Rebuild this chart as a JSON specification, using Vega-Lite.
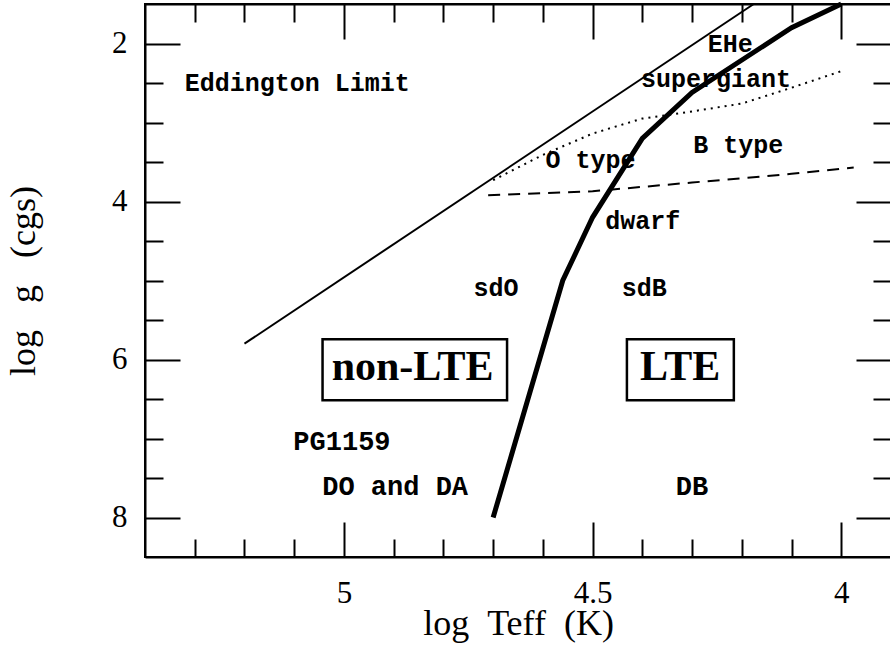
{
  "$schema": "https://vega.github.io/schema/vega-lite/v6.json",
  "width": 746,
  "height": 553,
  "autosize": {"type": "none"},
  "padding": {"left": 145, "top": 4, "right": 0, "bottom": 88},
  "background": "white",
  "config": {
    "view": {"stroke": "black", "strokeWidth": 2},
    "axis": {
      "grid": false,
      "domainColor": "black",
      "domainWidth": 2,
      "tickColor": "black",
      "tickWidth": 2,
      "labelColor": "black",
      "titleColor": "black",
      "labelFont": "Liberation Serif",
      "titleFont": "Liberation Serif",
      "labelFontSize": 31,
      "titleFontSize": 36,
      "titleFontWeight": "normal",
      "labelOverlap": false,
      "labelFlush": false
    }
  },
  "datasets": {
    "eddington": [
      {"logT": 5.2, "logg": 5.8},
      {"logT": 4.176, "logg": 1.5}
    ],
    "boundary": [
      {"logT": 4.7, "logg": 8.0},
      {"logT": 4.56, "logg": 5.0},
      {"logT": 4.5, "logg": 4.2},
      {"logT": 4.4, "logg": 3.2},
      {"logT": 4.3, "logg": 2.62},
      {"logT": 4.1, "logg": 1.8},
      {"logT": 4.0, "logg": 1.5}
    ],
    "dotted": [
      {"logT": 4.7, "logg": 3.73},
      {"logT": 4.6, "logg": 3.41},
      {"logT": 4.5, "logg": 3.14},
      {"logT": 4.4, "logg": 2.95},
      {"logT": 4.3, "logg": 2.86},
      {"logT": 4.2, "logg": 2.76},
      {"logT": 4.1, "logg": 2.56},
      {"logT": 4.0, "logg": 2.35}
    ],
    "dashed": [
      {"logT": 4.71, "logg": 3.92},
      {"logT": 4.5, "logg": 3.87},
      {"logT": 4.3, "logg": 3.76},
      {"logT": 4.1, "logg": 3.65},
      {"logT": 3.975, "logg": 3.57}
    ],
    "labels": [
      {"text": "Eddington Limit", "logT": 5.094, "logg": 2.5},
      {"text": "EHe", "logT": 4.223, "logg": 2.0},
      {"text": "supergiant", "logT": 4.252, "logg": 2.45},
      {"text": "O type", "logT": 4.504, "logg": 3.47},
      {"text": "B type", "logT": 4.207, "logg": 3.28},
      {"text": "dwarf", "logT": 4.399, "logg": 4.25},
      {"text": "sdO", "logT": 4.694, "logg": 5.1},
      {"text": "sdB", "logT": 4.396, "logg": 5.1}
    ],
    "wdlabels": [
      {"text": "PG1159", "logT": 5.004, "logg": 7.04},
      {"text": "DO and DA", "logT": 4.897, "logg": 7.62},
      {"text": "DB", "logT": 4.3, "logg": 7.62}
    ],
    "ltelabels": [
      {"text": "non-LTE", "logT": 4.862, "logg": 6.1},
      {"text": "LTE", "logT": 4.324, "logg": 6.1}
    ],
    "boxes": [
      {"logT": 5.043, "logT2": 4.672, "logg": 5.743, "logg2": 6.515},
      {"logT": 4.431, "logT2": 4.216, "logg": 5.743, "logg2": 6.515}
    ]
  },
  "layer": [
    {
      "encoding": {
        "x": {
          "field": "logT",
          "type": "quantitative",
          "scale": {"domain": [5.4, 3.9], "nice": false, "zero": false},
          "axis": {
            "orient": "bottom",
            "title": "log\u00a0\u00a0Teff\u00a0\u00a0(K)",
            "values": [5.3, 5.2, 5.1, 5.0, 4.9, 4.8, 4.7, 4.6, 4.5, 4.4, 4.3, 4.2, 4.1, 4.0],
            "format": "~g",
            "labelExpr": "abs(datum.value*2 - round(datum.value*2)) < 0.001 ? datum.label : ''",
            "tickSize": {"condition": {"test": "abs(datum.value*2 - round(datum.value*2)) < 0.001", "value": -35}, "value": -18},
            "labelPadding": 56,
            "titlePadding": -19
          }
        },
        "y": {
          "field": "logg",
          "type": "quantitative",
          "scale": {"domain": [8.5, 1.5], "nice": false, "zero": false},
          "axis": {
            "orient": "left",
            "title": "log\u00a0\u00a0\u00a0g\u00a0\u00a0\u00a0(cgs)",
            "values": [2, 2.5, 3, 3.5, 4, 4.5, 5, 5.5, 6, 6.5, 7, 7.5, 8],
            "format": "~g",
            "labelExpr": "datum.value % 2 == 0 ? datum.label : ''",
            "tickSize": {"condition": {"test": "datum.value % 2 == 0", "value": -35}, "value": -18},
            "labelPadding": 53,
            "titlePadding": 68
          }
        }
      },
      "layer": [
        {
          "data": {"name": "eddington"},
          "mark": {"type": "line", "color": "black", "strokeWidth": 2}
        },
        {
          "data": {"name": "dotted"},
          "mark": {"type": "line", "color": "black", "strokeWidth": 2, "strokeDash": [2, 5]}
        },
        {
          "data": {"name": "dashed"},
          "mark": {"type": "line", "color": "black", "strokeWidth": 2, "strokeDash": [12, 8]}
        },
        {
          "data": {"name": "boxes"},
          "mark": {"type": "rect", "fill": null, "stroke": "black", "strokeWidth": 2.5},
          "encoding": {
            "x2": {"field": "logT2"},
            "y2": {"field": "logg2"}
          }
        },
        {
          "data": {"name": "labels"},
          "mark": {"type": "text", "font": "Liberation Mono", "fontWeight": "bold", "fontSize": 25, "color": "black", "align": "center", "baseline": "middle"},
          "encoding": {"text": {"field": "text"}}
        },
        {
          "data": {"name": "wdlabels"},
          "mark": {"type": "text", "font": "Liberation Mono", "fontWeight": "bold", "fontSize": 27, "color": "black", "align": "center", "baseline": "middle"},
          "encoding": {"text": {"field": "text"}}
        },
        {
          "data": {"name": "ltelabels"},
          "mark": {"type": "text", "font": "Liberation Serif", "fontWeight": "bold", "fontSize": 42, "color": "black", "align": "center", "baseline": "middle"},
          "encoding": {"text": {"field": "text"}}
        }
      ]
    },
    {
      "data": {"name": "boundary"},
      "mark": {"type": "line", "color": "black", "strokeWidth": 5},
      "encoding": {
        "x": {
          "field": "logT",
          "type": "quantitative",
          "scale": {"domain": [5.4, 3.9], "nice": false, "zero": false},
          "axis": {
            "orient": "top",
            "title": null,
            "labels": false,
            "values": [5.3, 5.2, 5.1, 5.0, 4.9, 4.8, 4.7, 4.6, 4.5, 4.4, 4.3, 4.2, 4.1, 4.0],
            "tickSize": {"condition": {"test": "abs(datum.value*2 - round(datum.value*2)) < 0.001", "value": -35}, "value": -18}
          }
        },
        "y": {
          "field": "logg",
          "type": "quantitative",
          "scale": {"domain": [8.5, 1.5], "nice": false, "zero": false},
          "axis": {
            "orient": "right",
            "title": null,
            "labels": false,
            "values": [2, 2.5, 3, 3.5, 4, 4.5, 5, 5.5, 6, 6.5, 7, 7.5, 8],
            "tickSize": {"condition": {"test": "datum.value % 2 == 0", "value": -35}, "value": -18}
          }
        }
      }
    }
  ],
  "resolve": {"scale": {"x": "independent", "y": "independent"}}
}
